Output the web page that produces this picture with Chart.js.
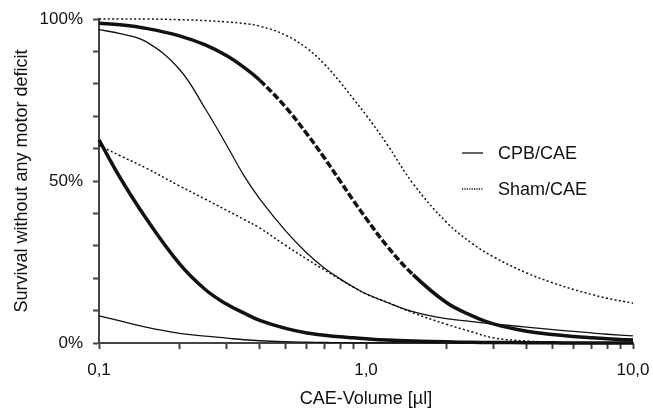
<!DOCTYPE html>
<html>
<head>
<meta charset="utf-8">
<script src="https://cdn.jsdelivr.net/npm/chart.js@4"></script>
<style>
  html, body { margin: 0; padding: 0; background: #fff; }
  #wrap { width: 653px; height: 408px; }
</style>
</head>
<body>
<div id="wrap"><canvas id="c" width="653" height="408"></canvas></div>
<script>
// ---- Data ----
const volumes = [0.1,0.12,0.15,0.2,0.25,0.3,0.35,0.4,0.5,0.6,0.7,0.8,0.9,1.0,1.2,1.5,2,2.5,3,4,5,6,7,8,10];

// Sham/CAE (dotted)
const shamThinHigh  = [100,100,100,99.8,99.5,99.1,98.6,97.8,95.0,91.0,86.0,80.5,75.2,70.4,61.3,49.2,37.3,30.7,26.6,21.6,18.6,16.5,15.0,13.8,12.3];
const shamThickHigh = [98.7,98.2,97.1,94.8,92.0,88.7,85.0,81.1,72.8,64.6,57.0,50.0,43.8,38.5,29.9,21.1,12.5,8.4,5.9,3.6,2.6,2.0,1.6,1.3,0.9];
const shamThinLow   = [61,57.8,54,48.5,44.4,41,38.1,35.5,30.1,25.9,22.5,19.6,17.2,15.1,12.6,9.3,5.8,3.4,1.6,0.6,0.3,0.15,0.1,0.05,0];

// CPB/CAE (solid)
const cpbThinHigh   = [96.7,95.5,93.0,84.5,72.3,61.2,51.5,44.5,34.6,27.8,23.1,19.8,17.2,15.2,12.5,9.7,7.5,6.6,5.9,4.9,4.1,3.6,3.1,2.7,2.2];
const cpbThickLow   = [62.7,51,38.5,24.5,16.5,12,9.2,7.0,4.5,3.1,2.4,1.9,1.6,1.3,0.9,0.6,0.35,0.2,0.15,0.1,0.05,0.03,0.02,0.01,0];
const cpbThinLow    = [8.4,6.8,4.9,3.0,2.1,1.5,1.0,0.7,0.4,0.25,0.15,0.1,0.08,0.06,0.04,0.02,0.01,0,0,0,0,0,0,0,0];

// Ticks
const xTickValues = [0.1,0.2,0.3,0.4,0.5,0.6,0.7,0.8,0.9,1,2,3,4,5,6,7,8,9,10];
const xTickLabels = {0.1: '0,1', 1: '1,0', 10: '10,0'};
const yTickLabels = {0: '0%', 50: '50%', 100: '100%'};
const legendLabels = ['CPB/CAE', 'Sham/CAE'];
const xTitle = 'CAE-Volume [µl]';
const yTitle = 'Survival without any motor deficit';

// ---- Chart ----
const FONT = "'Liberation Sans', Arial, Helvetica, sans-serif";
const INK = '#111';
const AXIS = '#444';

function pts(arr) { return volumes.map((v, i) => ({x: v, y: arr[i]})); }

const thin = 1.3, thick = 3.5;
const dotted = [2, 2.4];

function steepDash(ctx) {
  const dx = Math.abs(ctx.p1.x - ctx.p0.x);
  const dy = Math.abs(ctx.p1.y - ctx.p0.y);
  return (dy / Math.max(dx, 0.001)) > 0.92 ? [7, 2.6] : [];
}

const base = { pointRadius: 0, borderColor: INK, fill: false, tension: 0.4, clip: false, borderCapStyle: 'butt' };

const datasets = [
  Object.assign({}, base, { label: 'shamThinHigh', data: pts(shamThinHigh), borderWidth: 1.5, borderDash: dotted }),
  Object.assign({}, base, { label: 'shamThickHigh', data: pts(shamThickHigh), borderWidth: thick, borderDash: [], segment: { borderDash: steepDash } }),
  Object.assign({}, base, { label: 'shamThinLow', data: pts(shamThinLow), borderWidth: 1.5, borderDash: dotted }),
  Object.assign({}, base, { label: 'cpbThinHigh', data: pts(cpbThinHigh), borderWidth: thin }),
  Object.assign({}, base, { label: 'cpbThickLow', data: pts(cpbThickLow), borderWidth: thick }),
  Object.assign({}, base, { label: 'cpbThinLow', data: pts(cpbThinLow), borderWidth: thin })
];

const legendPlugin = {
  id: 'customLegend',
  afterDatasetsDraw(chart) {
    const ctx = chart.ctx;
    const a = chart.chartArea;
    const x0 = a.left + 363, x1 = a.left + 384, tx = a.left + 399;
    const rows = [
      { y: a.top + 134, dash: [], label: legendLabels[0] },
      { y: a.top + 170, dash: [1.2, 1.2], label: legendLabels[1] }
    ];
    ctx.save();
    rows.forEach(r => {
      ctx.beginPath();
      ctx.setLineDash(r.dash);
      ctx.lineWidth = 1.3;
      ctx.strokeStyle = INK;
      ctx.moveTo(x0, r.y);
      ctx.lineTo(x1, r.y);
      ctx.stroke();
      ctx.setLineDash([]);
      ctx.fillStyle = INK;
      ctx.font = '18px ' + FONT;
      ctx.textBaseline = 'middle';
      ctx.textAlign = 'left';
      ctx.fillText(r.label, tx, r.y + 1.5);
    });
    ctx.restore();
  }
};

new Chart(document.getElementById('c'), {
  type: 'line',
  data: { datasets },
  plugins: [legendPlugin],
  options: {
    responsive: false,
    animation: false,
    events: [],
    layout: { padding: { left: 0, top: 19, right: 20, bottom: 0 } },
    plugins: { legend: { display: false }, tooltip: { enabled: false } },
    scales: {
      x: {
        type: 'logarithmic',
        min: 0.1, max: 10,
        afterBuildTicks: s => { s.ticks = xTickValues.map(v => ({ value: v })); },
        afterFit: s => { s.height = 65; s.paddingLeft = 0; s.paddingRight = 0; },
        ticks: {
          autoSkip: false, maxRotation: 0, minRotation: 0, padding: 11,
          color: INK, font: { family: FONT, size: 17 },
          callback: v => (xTickLabels[v] !== undefined ? xTickLabels[v] : '')
        },
        grid: { drawOnChartArea: false, drawTicks: true, tickLength: 6, tickWidth: 2, tickColor: AXIS, color: AXIS },
        border: { display: true, color: AXIS, width: 2 },
        title: { display: true, text: xTitle, color: INK, font: { family: FONT, size: 18, lineHeight: 1 }, padding: { top: 0, bottom: 0 } }
      },
      y: {
        type: 'linear',
        min: 0, max: 100,
        afterFit: s => { s.width = 99; s.paddingTop = 0; s.paddingBottom = 0; },
        ticks: {
          stepSize: 10, autoSkip: false, padding: 10,
          color: INK, font: { family: FONT, size: 17 },
          callback: v => (yTickLabels[v] !== undefined ? yTickLabels[v] : '')
        },
        grid: { drawOnChartArea: false, drawTicks: true, tickLength: 6, tickWidth: 2, tickColor: AXIS, color: AXIS },
        border: { display: true, color: AXIS, width: 2 },
        title: { display: true, text: yTitle, color: INK, font: { family: FONT, size: 18, lineHeight: 1 }, padding: { top: 13, bottom: 0 } }
      }
    }
  }
});
</script>
</body>
</html>
